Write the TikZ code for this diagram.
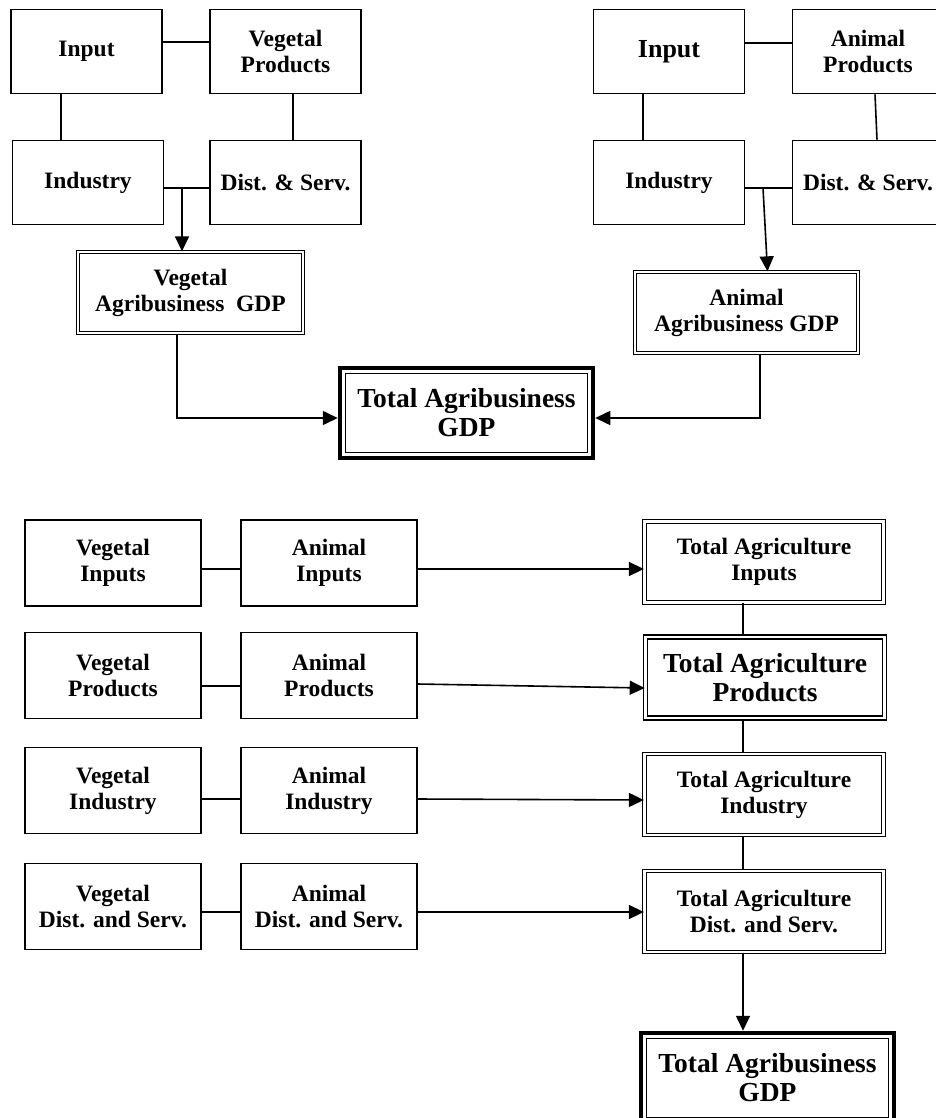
\documentclass[tikz,border=0pt]{standalone}
\usepackage{fontspec}
\setmainfont{Liberation Serif}
\usetikzlibrary{arrows.meta,calc}
\tikzset{%
  box/.style  = {shape=rectangle, draw, line width=1.6pt, align=center,%
                 inner sep=2pt, font=\bfseries\fontsize{23.5}{26}\selectfont},%
  sbox/.style = {box, minimum width=151pt, minimum height=84pt},%
  rbox/.style = {box, minimum width=176pt, minimum height=86pt},%
  dbox/.style = {box, double, double distance=2.2pt, line width=1.3pt,%
                 minimum width=239pt, minimum height=81pt},%
  tbox/.style = {box, line width=4.5pt, minimum width=253pt, minimum height=90pt,%
                 font=\bfseries\fontsize{27.5}{29}\selectfont},%
  link/.style = {line width=1.6pt},%
  flow/.style = {link, -{Triangle[length=15pt,width=14pt]}}%
}
\newcommand{\innerframe}[1]{%
  \draw[line width=1.3pt] ($(#1.north west)+(8,8)$) rectangle ($(#1.south east)+(-8,-8)$);}

\begin{document}
\begin{tikzpicture}[x=1pt,y=-1pt]
\useasboundingbox (0,0) rectangle (935,1118);
	% vegetal agribusiness
	\node[sbox] (inL) at (86.5,51.5) {Input};
	\node[sbox] (vpL) at (285.5,51.5) {Vegetal\\Products};
	\node[sbox] (indL) at (88,182.5) {Industry};
	\node[sbox] (dsL) at (285.5,182.5) {Dist. \& Serv.};
	\node[dbox, minimum width=225pt] (vgL) at (190.5,292.5) {Vegetal\\Agribusiness~~GDP};
		\draw[link] ($(inL.east)+(0,-9.5)$) -- ($(vpL.west)+(0,-9.5)$);
		\coordinate (a) at ($(inL.south)+(-25.5,0)$);
		\draw[link] (a) -- (a |- indL.north);
		\coordinate (b) at ($(vpL.south)+(7.5,0)$);
		\draw[link] (b) -- (b |- dsL.north);
		\draw[link] ($(indL.east)+(0,5.5)$) -- ($(dsL.west)+(0,5.5)$);
		\coordinate (jL) at (182,188);
		\draw[flow] (jL) -- (jL |- vgL.north);
	% animal agribusiness
	\node[sbox, font=\bfseries\fontsize{26}{28}\selectfont] (inR) at (669,51.5) {Input};
	\node[sbox] (apR) at (868,51.5) {Animal\\Products};
	\node[sbox] (indR) at (669,182.5) {Industry};
	\node[sbox] (dsR) at (868,182.5) {Dist. \& Serv.};
	\node[dbox, minimum width=223pt] (agR) at (746.5,312.5) {Animal\\Agribusiness GDP};
		\draw[link] ($(inR.east)+(0,-8.5)$) -- ($(apR.west)+(0,-8.5)$);
		\coordinate (c) at ($(inR.south)+(-26,0)$);
		\draw[link] (c) -- (c |- indR.north);
		\draw[link] ($(apR.south)+(7,0)$) -- ($(dsR.north)+(9,0)$);
		\draw[link] ($(indR.east)+(0,5.5)$) -- ($(dsR.west)+(0,5.5)$);
		\coordinate (jR) at (763,188);
		\draw[flow] (jR) -- ($(agR.north)+(21,0)$);
	% total agribusiness
	\node[tbox] (ttop) at (466.5,413) {Total Agribusiness\\GDP};
	\innerframe{ttop}
		\draw[flow] ($(vgL.south)+(-13.5,0)$) |- ($(ttop.west)+(0,5)$);
		\draw[flow] ($(agR.south)+(13.5,0)$) |- ($(ttop.east)+(0,5)$);
	% agriculture by segment
	\node[rbox] (viL) at (113,563) {Vegetal\\Inputs};
	\node[rbox] (aiL) at (329,563) {Animal\\Inputs};
	\node[rbox] (vpB) at (113,675.5) {Vegetal\\Products};
	\node[rbox] (apB) at (329,675.5) {Animal\\Products};
	\node[rbox] (viB) at (113,790.5) {Vegetal\\Industry};
	\node[rbox] (aiB) at (329,790.5) {Animal\\Industry};
	\node[rbox] (vdB) at (113,906.5) {Vegetal\\Dist. and Serv.};
	\node[rbox] (adB) at (329,906.5) {Animal\\Dist. and Serv.};
	\node[dbox] (tiR) at (764,562) {Total Agriculture\\Inputs};
	\node[dbox, line width=1.6pt, font=\bfseries\fontsize{27.5}{29}\selectfont] (tpR) at (765,677.5) {Total Agriculture\\Products};
	\node[dbox] (tnR) at (764,794.5) {Total Agriculture\\Industry};
	\node[dbox] (tdR) at (764,911.5) {Total Agriculture\\Dist. and Serv.};
		\draw[link] ($(viL.east)+(0,6)$) -- ($(aiL.west)+(0,6)$);
		\draw[flow] ($(aiL.east)+(0,6)$) -- ($(tiR.west)+(0,7)$);
		\draw[link] ($(vpB.east)+(0,10.5)$) -- ($(apB.west)+(0,10.5)$);
		\draw[flow] ($(apB.east)+(0,8.5)$) -- ($(tpR.west)+(0,10.5)$);
		\draw[link] ($(viB.east)+(0,8.5)$) -- ($(aiB.west)+(0,8.5)$);
		\draw[flow] ($(aiB.east)+(0,8.5)$) -- ($(tnR.west)+(0,5.5)$);
		\draw[link] ($(vdB.east)+(0,5.5)$) -- ($(adB.west)+(0,5.5)$);
		\draw[flow] ($(adB.east)+(0,5.5)$) -- ($(tdR.west)+(0,0.5)$);
		\coordinate (d) at (743,0);
		\draw[link] (d |- tiR.south) -- (d |- tpR.north);
		\draw[link] (d |- tpR.south) -- (d |- tnR.north);
		\draw[link] (d |- tnR.south) -- (d |- tdR.north);
	\node[tbox] (tbot) at (767.5,1078) {Total Agribusiness\\GDP};
	\innerframe{tbot}
		\draw[flow] (d |- tdR.south) -- (d |- tbot.north);
\end{tikzpicture}
\end{document}
